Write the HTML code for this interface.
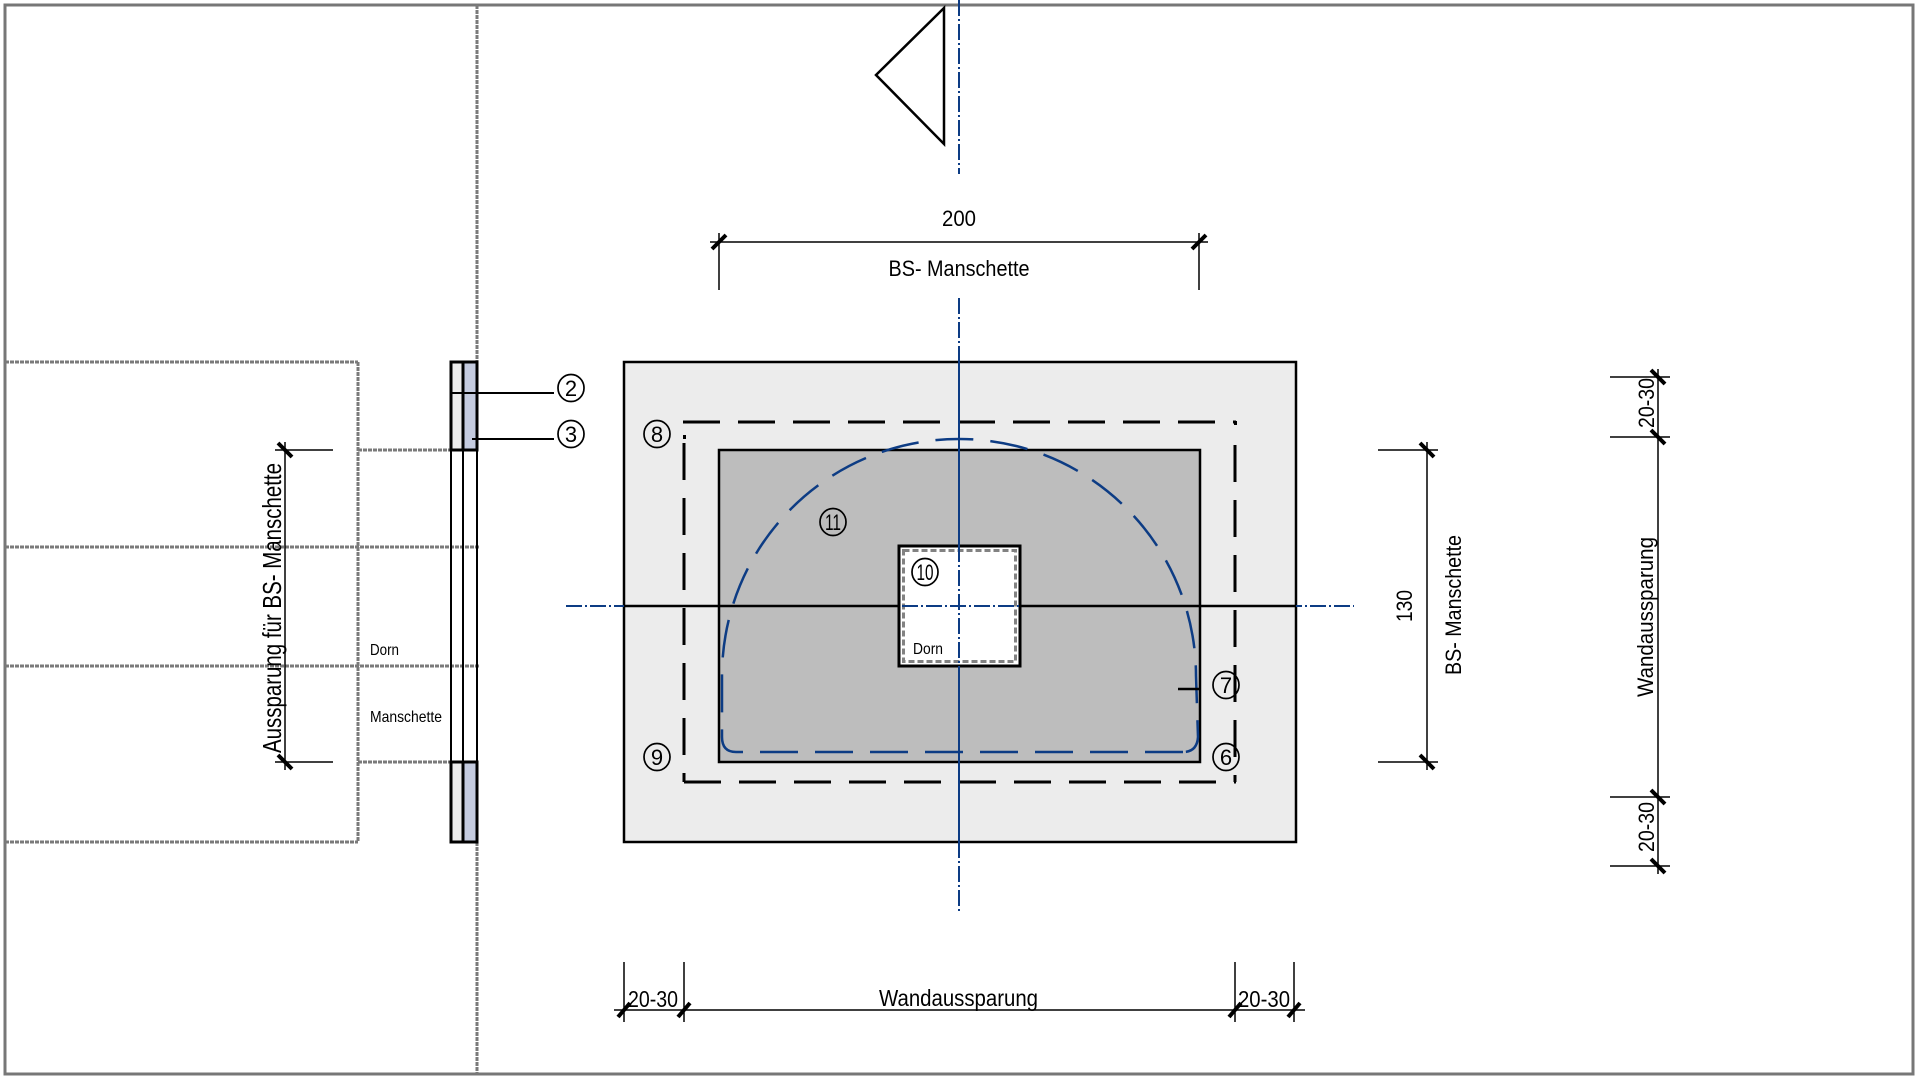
<!DOCTYPE html>
<html>
<head>
<meta charset="utf-8">
<style>
  html,body{margin:0;padding:0;background:#fff;}
  body{width:1920px;height:1079px;overflow:hidden;}
  svg{display:block;}
  text{font-family:"Liberation Sans Narrow","Liberation Sans",sans-serif;fill:#000;}
</style>
</head>
<body>
<svg width="1920" height="1079" viewBox="0 0 1920 1079" xmlns="http://www.w3.org/2000/svg">
  <!-- outer frame -->
  <rect x="5" y="5" width="1908" height="1069" fill="none" stroke="#777" stroke-width="3"/>

  <!-- left section dotted gray lines -->
  <g stroke="#7a7a7a" stroke-width="3" stroke-dasharray="4 1" fill="none">
    <line x1="477" y1="5" x2="477" y2="362"/>
    <line x1="477" y1="842" x2="477" y2="1074"/>
    <line x1="5" y1="362" x2="358" y2="362"/>
    <line x1="5" y1="842" x2="358" y2="842"/>
    <line x1="358" y1="362" x2="358" y2="842"/>
    <line x1="358" y1="450" x2="451" y2="450"/>
    <line x1="358" y1="762" x2="451" y2="762"/>
    <line x1="5" y1="547" x2="479" y2="547"/>
    <line x1="5" y1="666" x2="479" y2="666"/>
  </g>

  <!-- manschette side view -->
  <rect x="451" y="362" width="12" height="88" fill="#ececec"/>
  <rect x="463" y="362" width="14" height="88" fill="#c4cbdf"/>
  <rect x="451" y="762" width="12" height="80" fill="#ececec"/>
  <rect x="463" y="762" width="14" height="80" fill="#c4cbdf"/>
  <g stroke="#000" fill="none">
    <line x1="451" y1="450" x2="451" y2="762" stroke-width="2"/>
    <line x1="463" y1="450" x2="463" y2="762" stroke-width="2"/>
    <line x1="477" y1="450" x2="477" y2="762" stroke-width="2"/>
    <rect x="451" y="362" width="26" height="88" stroke-width="3"/>
    <line x1="463" y1="362" x2="463" y2="450" stroke-width="3"/>
    <rect x="451" y="762" width="26" height="80" stroke-width="3"/>
    <line x1="463" y1="762" x2="463" y2="842" stroke-width="3"/>
    <line x1="451" y1="393" x2="554" y2="393" stroke-width="2"/>
    <line x1="472" y1="439" x2="554" y2="439" stroke-width="2"/>
  </g>
  <text x="370" y="655" font-size="16" textLength="29" lengthAdjust="spacingAndGlyphs">Dorn</text>
  <text x="370" y="722" font-size="16" textLength="72" lengthAdjust="spacingAndGlyphs">Manschette</text>

  <!-- left vertical dimension -->
  <g stroke="#000" fill="none">
    <line x1="285" y1="442" x2="285" y2="770" stroke-width="1.5"/>
    <line x1="275" y1="450" x2="333" y2="450" stroke-width="1.5"/>
    <line x1="275" y1="762" x2="333" y2="762" stroke-width="1.5"/>
    <line x1="278" y1="443" x2="292" y2="457" stroke-width="4"/>
    <line x1="278" y1="755" x2="292" y2="769" stroke-width="4"/>
  </g>
  <text transform="translate(281,608) rotate(-90)" text-anchor="middle" font-size="26" textLength="290" lengthAdjust="spacingAndGlyphs">Aussparung für BS- Manschette</text>

  <!-- triangle -->
  <polygon points="944,8 876,75 944,144" fill="none" stroke="#000" stroke-width="2.5"/>

  <!-- top dimension 200 -->
  <g stroke="#000" fill="none">
    <line x1="710" y1="242" x2="1208" y2="242" stroke-width="1.5"/>
    <line x1="719" y1="233" x2="719" y2="290" stroke-width="1.5"/>
    <line x1="1199" y1="233" x2="1199" y2="290" stroke-width="1.5"/>
    <line x1="712" y1="249" x2="726" y2="235" stroke-width="4"/>
    <line x1="1192" y1="249" x2="1206" y2="235" stroke-width="4"/>
  </g>
  <text x="959" y="226" text-anchor="middle" font-size="22" textLength="34" lengthAdjust="spacingAndGlyphs">200</text>
  <text x="959" y="276" text-anchor="middle" font-size="22" textLength="141" lengthAdjust="spacingAndGlyphs">BS- Manschette</text>

  <!-- main plan -->
  <rect x="624" y="362" width="672" height="480" fill="#ececec" stroke="#000" stroke-width="2.5"/>
  <!-- dashed rect -->
  <g stroke="#000" stroke-width="3" fill="none" stroke-dasharray="37 18">
    <line x1="683" y1="422" x2="1236" y2="422"/>
    <line x1="684" y1="782" x2="1236" y2="782"/>
    <line x1="684" y1="443" x2="684" y2="782"/>
    <line x1="1235" y1="445" x2="1235" y2="782"/>
  </g>
  <rect x="683" y="435" width="3" height="4" fill="#000"/>
  <rect x="1234" y="421" width="3" height="4" fill="#000"/>

  <!-- dark gray rect -->
  <rect x="719" y="450" width="481" height="312" fill="#bdbdbd" stroke="#000" stroke-width="2.5"/>

  <!-- white square -->
  <rect x="899" y="546" width="121" height="120" fill="#fff" stroke="#000" stroke-width="3"/>
  <rect x="903.5" y="550.5" width="112" height="111" fill="none" stroke="#fff" stroke-width="5"/>
  <rect x="903.5" y="550.5" width="112" height="111" fill="none" stroke="#828282" stroke-width="3" stroke-dasharray="6 3"/>

  <!-- blue centerlines -->
  <g stroke="#0d3c84" stroke-width="2" fill="none">
    <line x1="566" y1="606" x2="1354" y2="606" stroke-dasharray="16 3 2 3"/>
    <line x1="959" y1="0" x2="959" y2="174" stroke-dasharray="16 3 2 3"/>
    <line x1="959" y1="298" x2="959" y2="362" stroke-dasharray="16 3 2 3"/>
    <line x1="959" y1="362" x2="959" y2="546"/>
    <line x1="959" y1="546" x2="959" y2="666" stroke-dasharray="16 3 2 3"/>
    <line x1="959" y1="666" x2="959" y2="842"/>
    <line x1="959" y1="842" x2="959" y2="912" stroke-dasharray="16 3 2 3"/>
  </g>
  <!-- black horizontal -->
  <g stroke="#000" stroke-width="2.5">
    <line x1="624" y1="606" x2="899" y2="606"/>
    <line x1="1020" y1="606" x2="1296" y2="606"/>
  </g>

  <!-- blue dashed arch -->
  <path d="M 1183 752 L 736 752 Q 722 752 722 737 L 722 676 A 237 237 0 0 1 1196 676 L 1198 737 Q 1197 752 1183 752" fill="none" stroke="#0d3c84" stroke-width="2.5" stroke-dasharray="38 17"/>

  <!-- leader 7 -->
  <line x1="1178" y1="689" x2="1200" y2="689" stroke="#000" stroke-width="2.5"/>

  <text x="913" y="654" font-size="16" textLength="30" lengthAdjust="spacingAndGlyphs">Dorn</text>

  <!-- circled numbers -->
  <g fill="none" stroke="#000" stroke-width="1.7">
    <ellipse cx="571" cy="388" rx="13" ry="13.5"/>
    <ellipse cx="571" cy="434" rx="13" ry="13.5"/>
    <ellipse cx="657" cy="434" rx="13" ry="13.5"/>
    <ellipse cx="657" cy="757" rx="13" ry="13.5"/>
    <ellipse cx="1226" cy="757" rx="13" ry="13.5"/>
    <ellipse cx="1226" cy="685" rx="13" ry="13.5"/>
    <ellipse cx="925" cy="572" rx="13" ry="13.5"/>
    <ellipse cx="833" cy="522" rx="13" ry="13.5"/>
  </g>
  <g font-size="22" text-anchor="middle">
    <text x="571" y="396">2</text>
    <text x="571" y="442">3</text>
    <text x="657" y="442">8</text>
    <text x="657" y="765">9</text>
    <text x="1226" y="765">6</text>
    <text x="1226" y="693">7</text>
    <text x="925" y="580" textLength="17" lengthAdjust="spacingAndGlyphs">10</text>
    <text x="833" y="530" textLength="16" lengthAdjust="spacingAndGlyphs">11</text>
  </g>

  <!-- right dimension 130 -->
  <g stroke="#000" fill="none">
    <line x1="1427" y1="442" x2="1427" y2="770" stroke-width="1.5"/>
    <line x1="1378" y1="450" x2="1438" y2="450" stroke-width="1.5"/>
    <line x1="1378" y1="762" x2="1438" y2="762" stroke-width="1.5"/>
    <line x1="1420" y1="443" x2="1434" y2="457" stroke-width="4"/>
    <line x1="1420" y1="755" x2="1434" y2="769" stroke-width="4"/>
  </g>
  <text transform="translate(1412,606) rotate(-90)" text-anchor="middle" font-size="22" textLength="32" lengthAdjust="spacingAndGlyphs">130</text>
  <text transform="translate(1461,605) rotate(-90)" text-anchor="middle" font-size="22" textLength="140" lengthAdjust="spacingAndGlyphs">BS- Manschette</text>

  <!-- far right dimension -->
  <g stroke="#000" fill="none">
    <line x1="1658" y1="369" x2="1658" y2="874" stroke-width="1.5"/>
    <line x1="1610" y1="377" x2="1670" y2="377" stroke-width="1.5"/>
    <line x1="1610" y1="437" x2="1670" y2="437" stroke-width="1.5"/>
    <line x1="1610" y1="797" x2="1670" y2="797" stroke-width="1.5"/>
    <line x1="1610" y1="866" x2="1670" y2="866" stroke-width="1.5"/>
    <line x1="1651" y1="370" x2="1665" y2="384" stroke-width="4"/>
    <line x1="1651" y1="430" x2="1665" y2="444" stroke-width="4"/>
    <line x1="1651" y1="790" x2="1665" y2="804" stroke-width="4"/>
    <line x1="1651" y1="859" x2="1665" y2="873" stroke-width="4"/>
  </g>
  <text transform="translate(1654,403) rotate(-90)" text-anchor="middle" font-size="22" textLength="50" lengthAdjust="spacingAndGlyphs">20-30</text>
  <text transform="translate(1653,617) rotate(-90)" text-anchor="middle" font-size="22" textLength="160" lengthAdjust="spacingAndGlyphs">Wandaussparung</text>
  <text transform="translate(1654,827) rotate(-90)" text-anchor="middle" font-size="22" textLength="50" lengthAdjust="spacingAndGlyphs">20-30</text>

  <!-- bottom dimension -->
  <g stroke="#000" fill="none">
    <line x1="614" y1="1010" x2="1305" y2="1010" stroke-width="1.5"/>
    <line x1="624" y1="962" x2="624" y2="1022" stroke-width="1.5"/>
    <line x1="684" y1="962" x2="684" y2="1022" stroke-width="1.5"/>
    <line x1="1235" y1="962" x2="1235" y2="1022" stroke-width="1.5"/>
    <line x1="1294" y1="962" x2="1294" y2="1022" stroke-width="1.5"/>
    <line x1="618" y1="1017" x2="630" y2="1003" stroke-width="4"/>
    <line x1="678" y1="1017" x2="690" y2="1003" stroke-width="4"/>
    <line x1="1229" y1="1017" x2="1241" y2="1003" stroke-width="4"/>
    <line x1="1288" y1="1017" x2="1300" y2="1003" stroke-width="4"/>
  </g>
  <text x="628" y="1007" font-size="23" textLength="50" lengthAdjust="spacingAndGlyphs">20-30</text>
  <text x="879" y="1006" font-size="23" textLength="159" lengthAdjust="spacingAndGlyphs">Wandaussparung</text>
  <text x="1238" y="1007" font-size="23" textLength="52" lengthAdjust="spacingAndGlyphs">20-30</text>
</svg>
</body>
</html>
